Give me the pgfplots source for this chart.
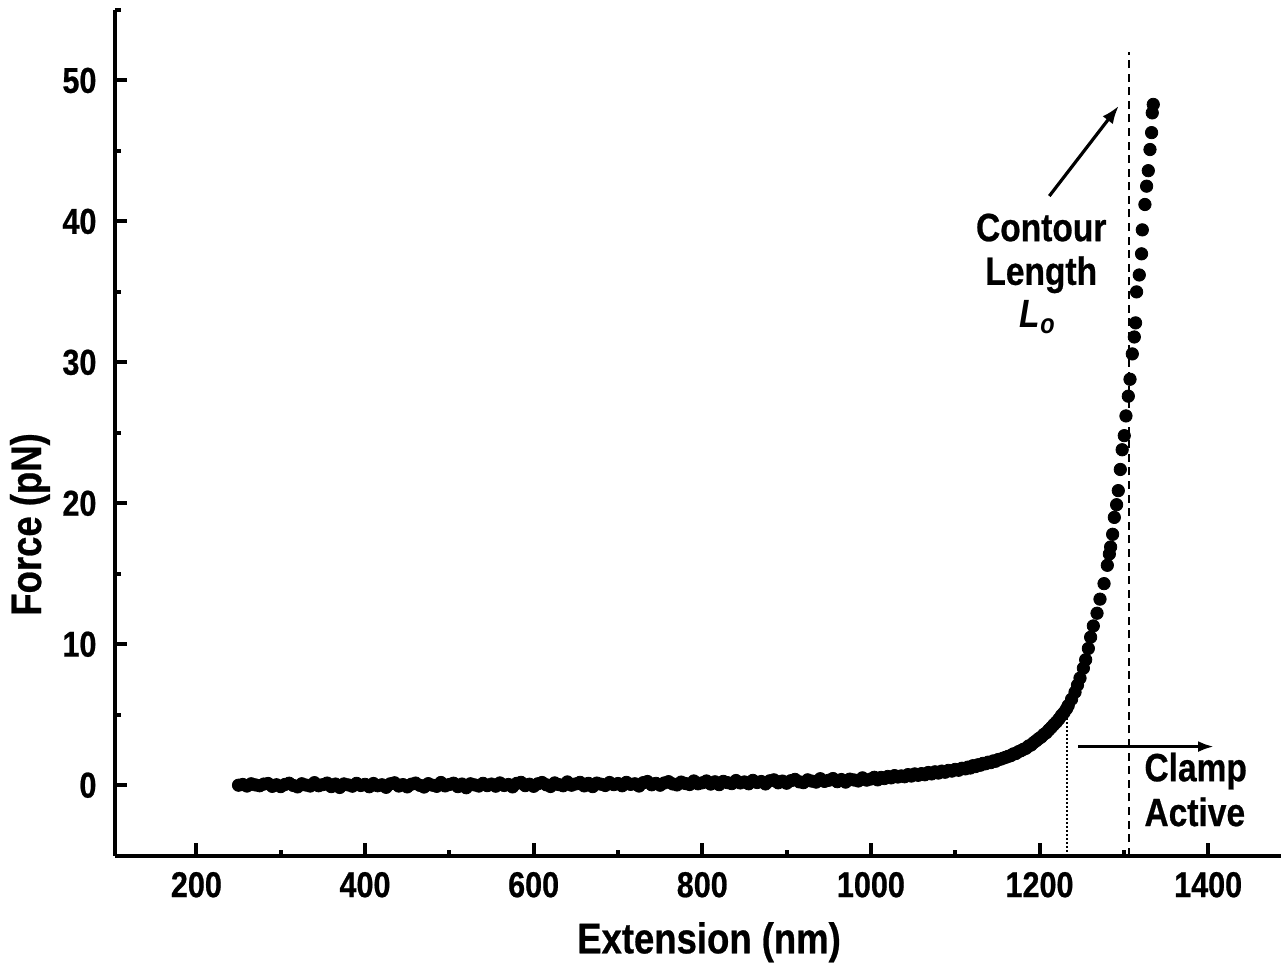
\documentclass[border=0pt]{standalone}
\usepackage{pgfplots}
\pgfplotsset{compat=1.18}
\usetikzlibrary{arrows.meta}
\usepackage{fontspec}
\setmainfont{Liberation Sans}[FakeStretch=0.85, BoldFeatures={FakeBold=0.6}]

\begin{document}
\begin{tikzpicture}
\begin{axis}[
  name=ax,
  scale only axis,
  width=584bp, height=423.5bp,
  xmin=103.25, xmax=1486.4,
  ymin=-5, ymax=55,
  axis lines=left,
  axis line style={-, line width=2bp, black},
  tick align=inside,
  xtick={200,400,...,1400},
  ytick={0,10,...,50},
  minor xtick={300,500,...,1300},
  minor ytick={-5,5,...,55},
  major tick length=6.2bp,
  minor tick length=3bp,
  every tick/.style={line width=2bp, black},
  /pgf/number format/assume math mode=true,
  /pgf/number format/set thousands separator={},
  xticklabel style={font=\fontsize{18bp}{20bp}\selectfont\bfseries, anchor=north, inner sep=0pt, yshift=-8bp},
  yticklabel style={font=\fontsize{18bp}{20bp}\selectfont\bfseries, anchor=east, inner sep=0pt, xshift=-9bp},
  clip=false,
]
% force-extension trace
\addplot[only marks, mark=*, mark size=3.1bp, mark options={fill=black, draw=black}] coordinates {
(250,0.00) (255,0.05) (260,-0.06) (265,0.10) (270,0.02) (275,-0.04) (280,0.08) (285,0.12) (290,-0.08) (295,0.03)
(300,-0.10) (305,0.05) (310,0.14) (315,-0.02) (320,-0.12) (325,0.10) (330,0.01) (335,-0.06) (340,0.18) (345,-0.04)
(350,0.04) (355,0.15) (360,-0.10) (365,0.08) (370,-0.16) (375,0.09) (380,0.02) (385,-0.07) (390,0.13) (395,-0.02)
(400,0.06) (405,-0.11) (410,0.12) (415,-0.04) (420,0.03) (425,-0.15) (430,0.10) (435,0.17) (440,-0.06) (445,0.04)
(450,-0.12) (455,0.07) (460,0.15) (465,-0.01) (470,-0.13) (475,0.11) (480,0.00) (485,-0.08) (490,0.19) (495,-0.05)
(500,0.05) (505,0.14) (510,-0.10) (515,0.08) (520,-0.18) (525,0.10) (530,0.02) (535,-0.06) (540,0.13) (545,-0.03)
(550,0.08) (555,-0.07) (560,0.16) (565,-0.02) (570,0.05) (575,-0.12) (580,0.13) (585,0.20) (590,-0.03) (595,0.07)
(600,-0.08) (605,0.10) (610,0.19) (615,0.03) (620,-0.09) (625,0.16) (630,0.04) (635,-0.04) (640,0.23) (645,0.00)
(650,0.09) (655,0.20) (660,-0.05) (665,0.13) (670,-0.10) (675,0.15) (680,0.07) (685,-0.02) (690,0.19) (695,0.04)
(700,0.12) (705,-0.04) (710,0.20) (715,0.06) (720,0.10) (725,-0.06) (730,0.18) (735,0.26) (740,0.03) (745,0.13)
(750,0.00) (755,0.16) (760,0.25) (765,0.09) (770,0.02) (775,0.22) (780,0.12) (785,0.05) (790,0.30) (795,0.10)
(800,0.17) (805,0.30) (810,0.08) (815,0.24) (820,0.04) (825,0.27) (830,0.18) (835,0.11) (840,0.33) (845,0.16)
(850,0.23) (855,0.10) (860,0.34) (865,0.19) (870,0.26) (875,0.09) (880,0.31) (885,0.38) (890,0.17) (895,0.29)
(900,0.14) (905,0.32) (910,0.41) (915,0.24) (920,0.18) (925,0.38) (930,0.29) (935,0.22) (940,0.46) (945,0.27)
(950,0.35) (955,0.47) (960,0.25) (965,0.40) (970,0.22) (975,0.43) (980,0.37) (985,0.30) (990,0.52) (995,0.36)
(1000,0.44) (1004,0.56) (1008,0.38) (1012,0.55) (1016,0.47) (1020,0.62) (1024,0.52) (1028,0.68) (1032,0.58) (1036,0.66)
(1040,0.60) (1044,0.75) (1048,0.65) (1052,0.80) (1056,0.70) (1060,0.82) (1064,0.74) (1068,0.90) (1072,0.80) (1076,0.95)
(1080,0.86) (1084,1.00) (1088,0.92) (1092,1.05) (1096,1.00) (1100,1.12) (1104,1.06) (1108,1.20) (1112,1.16) (1115,1.28)
(1118,1.22) (1121,1.38) (1124,1.32) (1127,1.45) (1130,1.42) (1133,1.55) (1136,1.52) (1139,1.63) (1142,1.60) (1145,1.72)
(1148,1.70) (1151,1.82) (1154,1.85) (1157,1.92) (1160,1.98) (1163,2.05) (1166,2.10) (1169,2.22) (1172,2.25) (1175,2.38)
(1178,2.45) (1181,2.55) (1184,2.62) (1187,2.78) (1190,2.85) (1193,3.02) (1196,3.15) (1199,3.30) (1202,3.42) (1205,3.60)
(1208,3.72) (1211,3.92) (1214,4.10) (1217,4.30) (1220,4.48) (1223,4.70) (1226,4.95) (1229,5.15) (1232,5.42) (1234,5.65)
(1238,6.1) (1242.1,6.6) (1245,7.1) (1248,7.6) (1252,8.3) (1254.7,8.9) (1257.9,9.7) (1260.6,10.5) (1263.8,11.3) (1268.2,12.2)
(1271.7,13.2) (1276.5,14.3) (1280.4,15.6) (1282.8,16.4) (1284.3,16.9) (1286.7,17.8) (1288.7,19.0) (1291.4,19.9) (1293.4,20.9) (1295.8,22.4)
(1298,23.8) (1300.5,24.8) (1302.5,26.2) (1305.3,27.6) (1307.3,28.8) (1310,30.6) (1312.4,31.8) (1313.9,32.8) (1315.1,35.0) (1318.3,36.2)
(1321,37.7) (1321.9,39.4) (1325,41.2) (1327,42.5) (1329,43.6) (1331,45.1) (1332.9,46.3) (1333.7,47.7) (1334.9,48.3)
};
% contour length marker
\draw[line width=1bp, dash pattern=on 4bp off 2.8bp] (axis cs:1306,-5) -- (axis cs:1306,52);
\draw[-{Latex[length=9bp,width=6.5bp]}, line width=1.6bp] (axis cs:1211.6,41.8) -- (axis cs:1294,48.2);
\node[anchor=base, inner sep=0pt, font=\fontsize{19.75bp}{22bp}\selectfont\bfseries] at (axis cs:1202,38.6) {Contour};
\node[anchor=base, inner sep=0pt, font=\fontsize{19.75bp}{22bp}\selectfont\bfseries] at (axis cs:1202,35.5) {Length};
\node[anchor=base, inner sep=0pt, font=\fontsize{19.75bp}{22bp}\selectfont\bfseries\itshape] at (axis cs:1198,32.5) {L\textsubscript{o}};
% clamp onset
\draw[line width=1bp, dash pattern=on 1bp off 1bp] (axis cs:1233,-5) -- (axis cs:1233,4.9);
\draw[-{Latex[length=8bp,width=5.5bp]}, line width=1.6bp] (axis cs:1246,2.74) -- (axis cs:1407,2.74);
\node[anchor=base west, inner sep=0pt, font=\fontsize{19.75bp}{22bp}\selectfont\bfseries] at (axis cs:1324,0.28) {Clamp};
\node[anchor=base west, inner sep=0pt, font=\fontsize{19.75bp}{22bp}\selectfont\bfseries] at (axis cs:1324,-2.9) {Active};
% axis titles
\node[anchor=base, inner sep=0pt, font=\fontsize{21.5bp}{24bp}\selectfont\bfseries] at (axis cs:808,-11.93) {Extension (nm)};
\node[rotate=90, anchor=center, inner sep=0pt, font=\fontsize{21.5bp}{24bp}\selectfont\bfseries] at (axis cs:2.6,18.5) {Force (pN)};
\end{axis}
\path (ax.south west) ++(-57.5bp,-56.5bp) rectangle ++(641.5bp,485bp);
\end{tikzpicture}
\end{document}
